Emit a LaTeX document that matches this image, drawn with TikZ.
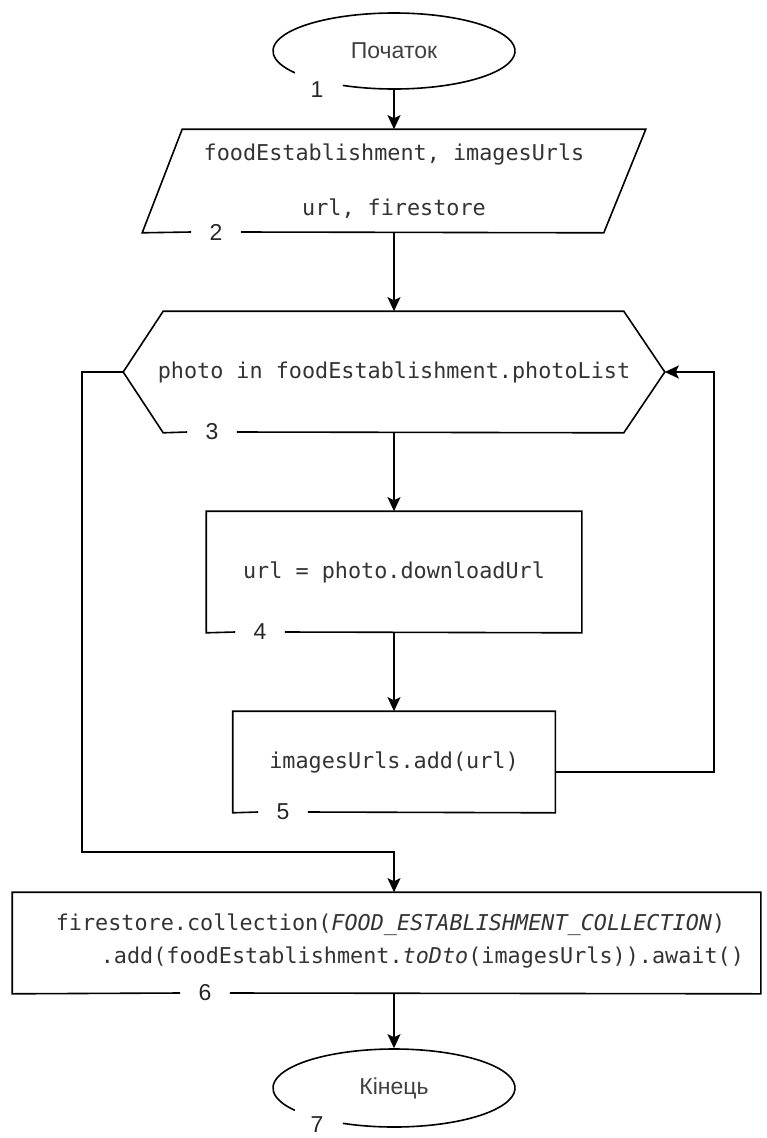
\documentclass[tikz,border=0pt]{standalone}
\usepackage{fontspec}
\setmainfont{Liberation Sans}
\newfontfamily\monof{DejaVu Sans Mono}
\usetikzlibrary{arrows.meta,calc}
\begin{document}
\begin{tikzpicture}[x=1pt,y=1pt,
  line width=1.6pt,
  arr/.style={-{Stealth[length=14pt,width=13pt,inset=3pt]}},
  blk/.style={draw=none, rectangle, inner sep=0pt, text=black!80, font=\monof\fontsize{21.8}{26}\selectfont, align=center},
  ter/.style={draw=none, rectangle, inner sep=0pt, text=black!75, font=\fontsize{23}{28}\selectfont},
  num/.style={draw=none, inner sep=0pt, minimum width=48pt, minimum height=20pt, font=\fontsize{23}{28}\selectfont, text=black!85},
]
\useasboundingbox (0,0) rectangle (766,-1138);

% start terminal
\node[ter, minimum width=242pt, minimum height=76pt] (start) at (394,-51) {Початок};
\draw (start.center) ++(245:121pt and 38pt) arc[start angle=245, end angle=575, x radius=121pt, y radius=38pt];
\node[num] (n1) at (317,-90) {1};

% input parallelogram
\node[blk, minimum width=502pt, minimum height=102pt, font=\monof\fontsize{21.8}{55}\selectfont] (in) at (394,-181) {foodEstablishment, imagesUrls\\url, firestore};
\node[num] (n2) at (216,-232) {2};
\draw (n2.east) -- ($(in.south east)+(-42,0)$) -- (in.north east) -- ($(in.north west)+(40,0)$) -- (in.south west) -- (n2.west);

% loop hexagon
\node[blk, minimum width=540pt, minimum height=120pt] (loop) at (394,-372) {photo in foodEstablishment.photoList};
\node[num] (n3) at (212,-432) {3};
\draw (n3.east) -- ($(loop.south east)+(-41,0)$) -- (loop.east) -- ($(loop.north east)+(-41,0)$) -- ($(loop.north west)+(40,0)$) -- (loop.west) -- ($(loop.south west)+(40,0)$) -- (n3.west);

% box 4
\node[blk, minimum width=374pt, minimum height=120pt] (b4) at (394,-572) {url = photo.downloadUrl};
\node[num] (n4) at (260,-632) {4};
\draw (n4.east) -- (b4.south east) -- (b4.north east) -- (b4.north west) -- (b4.south west) -- (n4.west);

% box 5
\node[blk, minimum width=321pt, minimum height=100pt] (b5) at (394,-762) {imagesUrls.add(url)};
\node[num] (n5) at (283,-812) {5};
\draw (n5.east) -- (b5.south east) -- (b5.north east) -- (b5.north west) -- (b5.south west) -- (n5.west);

% box 6
\node[draw=none, inner sep=0pt, minimum width=747pt, minimum height=100pt] (b6) at (386.5,-943) {};
\node[blk, anchor=west, align=left, font=\monof\fontsize{21.8}{33}\selectfont] (t6) at (55,-941) {firestore.collection(\textit{FOOD\_ESTABLISHMENT\_COLLECTION})\\\hspace*{45pt}.add(foodEstablishment.\textit{toDto}(imagesUrls)).await()};
\node[num] (n6) at (205,-993) {6};
\draw (n6.east) -- (b6.south east) -- (b6.north east) -- (b6.north west) -- (b6.south west) -- (n6.west);

% end terminal
\node[ter, minimum width=242pt, minimum height=78pt] (end) at (394,-1088) {Кінець};
\draw (end.center) ++(245:121pt and 39pt) arc[start angle=245, end angle=575, x radius=121pt, y radius=39pt];
\node[num] (n7) at (317,-1125) {7};

% connectors
\draw[arr] (start.south) -- (in.north);
\draw[arr] (in.south) -- (loop.north);
\draw[arr] (loop.south) -- (b4.north);
\draw[arr] (b4.south) -- (b5.north);
\coordinate (ret) at (714,-772);
\draw[arr] ($(b5.east)+(0,-10)$) -- (ret) |- (loop.east);
\coordinate (exl) at (82,-372);
\coordinate (exb) at (394,-852);
\draw[arr] (loop.west) -- (exl) |- (exb) -- (exb |- b6.north);
\draw[arr] (exb |- b6.south) -- (end.north);
\end{tikzpicture}
\end{document}
